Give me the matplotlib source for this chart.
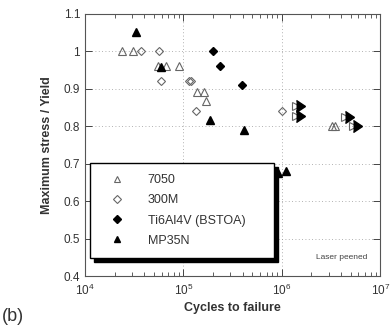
import matplotlib
matplotlib.use("Agg")
import matplotlib.pyplot as plt
from matplotlib.ticker import LogLocator, FixedLocator, NullFormatter

plt.rcParams['font.family'] = ['Liberation Sans', 'DejaVu Sans']

# 7050 (open triangles)
al_n = [2.4e4, 3.1e4, 5.5e4, 6.7e4, 9.1e4, 1.36e5, 1.62e5, 1.7e5, 3.2e6, 3.5e6]
al_s = [1.0, 1.0, 0.96, 0.96, 0.96, 0.89, 0.89, 0.868, 0.80, 0.80]
# 7050 runouts (arrows)
run_n = [1.4e6, 1.4e6, 4.4e6, 5.3e6]
run_s = [0.853, 0.826, 0.825, 0.80]
# 300M (open diamonds)
st_n = [3.7e4, 5.7e4, 5.9e4, 1.15e5, 1.2e5, 1.33e5, 1.0e6]
st_s = [1.0, 1.0, 0.92, 0.92, 0.92, 0.841, 0.84]
# Ti6Al4V (BSTOA) (filled diamonds)
ti_n = [1.98e5, 2.35e5, 3.9e5]
ti_s = [1.0, 0.96, 0.91]
# MP35N (filled triangles)
mp_n = [3.3e4, 5.9e4, 1.86e5, 4.1e5, 9.1e5, 1.1e6]
mp_s = [1.05, 0.958, 0.815, 0.79, 0.674, 0.679]

txt = '#333333'
fig = plt.figure(figsize=(3.9, 3.31), dpi=100)
ax = fig.add_axes([0.218, 0.166, 0.757, 0.793])

ax.set_xscale('log')
ax.set_xlim(1e4, 1e7)
ax.set_ylim(0.4, 1.1)

ax.grid(True, which='major', linestyle=(0, (1, 3)), color='#999999', linewidth=0.6)

ax.plot(al_n, al_s, linestyle='none', marker='^', markersize=6, markerfacecolor='none',
        markeredgecolor='#666666', markeredgewidth=0.8, label='7050', zorder=3)
ax.plot(run_n, run_s, linestyle='none', marker='>', markersize=6, markerfacecolor='none',
        markeredgecolor='#666666', markeredgewidth=0.8, zorder=3)
ax.plot(run_n, run_s, linestyle='none', marker=9, markersize=9, color='black', zorder=4)
ax.plot(st_n, st_s, linestyle='none', marker='D', markersize=4.5, markerfacecolor='none',
        markeredgecolor='#666666', markeredgewidth=0.8, label='300M', zorder=3)
ax.plot(ti_n, ti_s, linestyle='none', marker='D', markersize=4.5, color='black',
        label='Ti6Al4V (BSTOA)', zorder=3)
ax.plot(mp_n, mp_s, linestyle='none', marker='^', markersize=6, color='black',
        label='MP35N', zorder=3)

ax.yaxis.set_major_locator(FixedLocator([0.4, 0.5, 0.6, 0.7, 0.8, 0.9, 1.0, 1.1]))
ax.set_yticklabels(['0.4', '0.5', '0.6', '0.7', '0.8', '0.9', '1', '1.1'])
ax.xaxis.set_major_locator(LogLocator(base=10, numticks=10))
ax.xaxis.set_minor_locator(LogLocator(base=10, subs=range(2, 10), numticks=20))
ax.xaxis.set_minor_formatter(NullFormatter())
ax.tick_params(which='both', direction='in', top=True, right=True, colors='#444444',
               labelcolor=txt, labelsize=8.5)
ax.tick_params(which='major', length=5, width=0.7)
ax.tick_params(which='minor', length=3, width=0.6)
ax.tick_params(axis='x', pad=5)
for s in ax.spines.values():
    s.set_color('#555555')
    s.set_linewidth(0.8)

ax.set_xlabel('Cycles to failure', fontsize=9, fontweight='bold', color=txt, labelpad=3)
ax.set_ylabel('Maximum stress / Yield', fontsize=9, fontweight='bold', color=txt, labelpad=8)

leg = ax.legend(loc='lower left', bbox_to_anchor=(0.017, 0.069, 0.623, 0.354),
                mode='expand', borderaxespad=0, fontsize=9, labelspacing=0.65,
                handlelength=2.5, handletextpad=1.2, borderpad=0.9, fancybox=False,
                markerscale=0.8,
                shadow={'color': 'black', 'alpha': 1.0, 'ox': 3, 'oy': -3})
leg.get_frame().set_edgecolor('black')
leg.get_frame().set_linewidth(1.0)
leg.get_frame().set_alpha(1)
for t in leg.get_texts():
    t.set_color(txt)

ax.text(0.955, 0.07, 'Laser peened', transform=ax.transAxes, ha='right', va='center',
        fontsize=6, color='#444444')

fig.text(0.005, 0.045, '(b)', fontsize=13, color=txt, ha='left', va='center')

fig.savefig('out.png', dpi=100)
